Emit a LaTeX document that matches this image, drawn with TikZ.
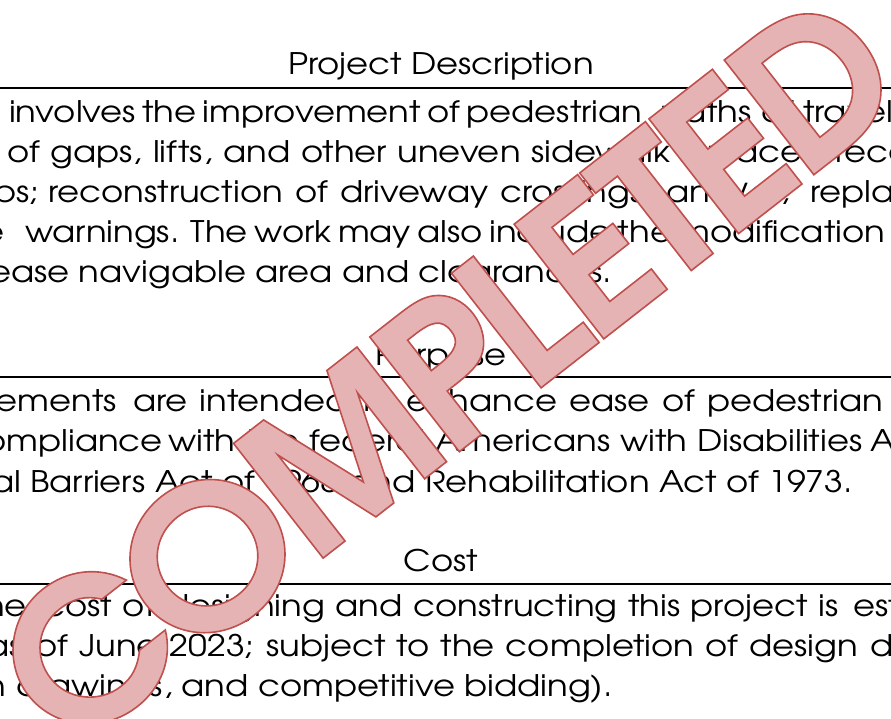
\documentclass[tikz,border=0pt]{standalone}
\usepackage{fontspec}
\setmainfont{TeX Gyre Adventor}[FakeStretch=1.14]
\newfontfamily\stampfont{TeX Gyre Adventor}[FakeStretch=1.03, LetterSpace=-5]
\usetikzlibrary{positioning}

\definecolor{stampfill}{RGB}{229,179,179}
\definecolor{stampline}{RGB}{192,80,77}

% fill and stroke the glyphs of the stamp
\newcommand{\outlined}[1]{\special{pdf:literal direct 2 Tr 1.6 w 0.753 0.314 0.302 RG}#1\special{pdf:literal direct 0 Tr}}

\begin{document}
\begin{tikzpicture}[x=1pt, y=-1pt,
  every node/.style={inner sep=0pt, font=\fontsize{29.7}{36}\selectfont},
  txt/.style={anchor=base west},
  cut/.style={anchor=base east},
  head/.style={anchor=base},
  rule/.style={line width=2pt},
  stamp/.style={anchor=center, rotate=38, font=\fontsize{197}{197}\stampfont\bfseries}]
\useasboundingbox (0,0) rectangle (891,719);
\clip (0,0) rectangle (891,719);

% Project Description
\node[head] (desc) at (441,75) {Project Description};
\draw[rule] (0,87.7) -- (891,87.7);
\node[txt] (d1) at (9,123) {\makebox[631pt][s]{involves the improvement of pedestrian}};
\node[txt] (d1r) at (660,123) {paths of travel};
\node[txt] (d2) at (7,163) {\makebox[818pt][s]{of gaps, lifts, and other uneven sidewalk surfaces;}};
\node[txt] (d2r) at (835,163) {reconstruction};
\node[cut] (d3l) at (39,203) {ramps;};
\node[txt] (d3) at (48,203) {\makebox[742pt][s]{reconstruction of driveway crossings; and/or,}};
\node[txt] (d3r) at (810,203) {replacement};
\node[cut] (d4l) at (5,243) {detectable};
\node[txt] (d4) at (25,243) {\makebox[860pt][s]{warnings. The work may also include the modification}};
\node[cut] (d5) at (612,283) {increase navigable area and clearances.};

% Purpose
\node[head] (purp) at (441,365) {Purpose};
\draw[rule] (0,376.7) -- (891,376.7);
\node[cut] (p1l) at (117,411) {improvements};
\node[txt] (p1) at (133,411) {\makebox[750pt][s]{are intended to enhance ease of pedestrian}};
\node[cut] (p2l) at (163,451.5) {compliance};
\node[txt] (p2) at (168,451.5) {\makebox[694pt][s]{with the federal Americans with Disabilities}};
\node[txt] (p2r) at (870,451.5) {Act};
\node[cut] (p3) at (853,492.5) {Architectural Barriers Act of 1968 and Rehabilitation Act of 1973.};

% Cost
\node[head] (cost) at (441,571.7) {Cost};
\draw[rule] (0,584) -- (891,584);
\node[cut] (c1l) at (27,616.7) {The};
\node[txt] (c1) at (43,616.7) {\makebox[795pt][s]{cost of designing and constructing this project is}};
\node[txt] (c1r) at (853,616.7) {estimated};
\node[cut] (c2l) at (23,656.7) {(as};
\node[txt] (c2) at (35,656.7) {\makebox[823pt][s]{of June 2023; subject to the completion of design}};
\node[txt] (c2r) at (870,656.7) {documents,};
\node[cut] (c3) at (613,696.7) {construction drawings, and competitive bidding).};

% stamp
\node[stamp] (done) at (447,369) {\color{stampfill}\outlined{COMPLETED}};
\end{tikzpicture}
\end{document}
